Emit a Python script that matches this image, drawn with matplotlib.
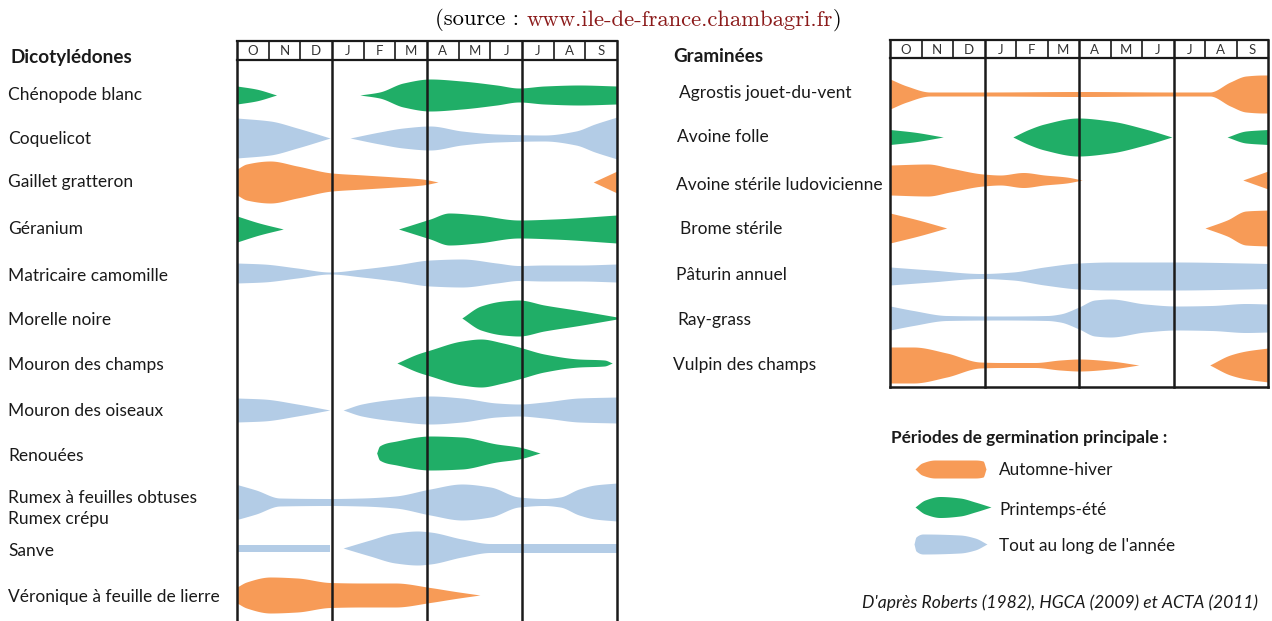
import numpy as np
import matplotlib
matplotlib.use("Agg")
import matplotlib.pyplot as plt

# ---------------- data ----------------
MONTHS = ["O", "N", "D", "J", "F", "M", "A", "M", "J", "J", "A", "S"]

COLORS = {"AH": "#F79B57", "PE": "#20AE67", "TA": "#B3CCE6"}

# Dicotylédones: (label, type, segments of (month, half-thickness))
DICOT_LABELS = ["Chénopode blanc", "Coquelicot", "Gaillet gratteron", "Géranium",
                "Matricaire camomille", "Morelle noire", "Mouron des champs",
                "Mouron des oiseaux", "Renouées",
                "Rumex à feuilles obtuses\nRumex crépu", "Sanve",
                "Véronique à feuille de lierre"]
DICOT_TYPES = ["PE", "TA", "AH", "PE", "TA", "PE", "PE", "TA", "PE", "TA", "TA", "AH"]
DICOT_PROFILES = [
    [[(0, 9), (0.6, 6), (1.25, 0)],
     [(3.88, 0), (4.5, 3), (5.25, 12), (6.1, 16), (7.1, 14), (8.2, 10), (8.9, 7), (9.7, 9), (10.8, 10), (12, 9)]],
    [[(0, 20), (1.05, 17), (1.9, 10), (2.94, 0)],
     [(3.57, 0), (4.5, 6), (5.25, 10), (6.1, 12), (7.1, 7), (8.2, 4), (9.7, 3), (10.7, 7), (11.3, 14), (12, 21)]],
    [[(0, 13), (0.3, 18), (1.05, 21), (1.9, 16), (3.0, 9), (4.0, 7), (5.0, 5), (5.85, 3), (6.35, 0)],
     [(11.25, 0), (12, 11)]],
    [[(0, 13), (0.7, 6), (1.46, 0)],
     [(5.1, 0), (5.6, 5), (6.1, 10), (6.7, 16), (7.6, 14), (8.9, 9), (10, 10), (12, 14)]],
    [[(0, 10), (0.83, 9), (1.9, 5), (2.94, 1), (3.94, 4), (5.0, 8), (6.1, 13), (7.1, 14), (8.2, 10),
      (8.9, 7.5), (9.7, 8), (10.8, 8), (12, 9)]],
    [[(7.1, 0), (7.7, 12), (8.4, 17), (8.9, 18), (9.7, 13), (10.8, 7.5), (12, 1)]],
    [[(5.05, 0), (5.7, 9), (6.1, 13), (7.1, 22), (7.7, 24), (8.4, 20), (8.9, 16), (9.7, 9), (10.8, 4),
      (11.6, 3), (11.85, 0)]],
    [[(0, 12), (0.83, 11), (1.9, 6), (2.93, 0)],
     [(3.35, 0), (3.94, 6), (5.0, 11), (6.1, 14), (7.1, 12), (8.2, 7), (8.9, 6), (9.7, 8), (10.8, 12), (12, 13)]],
    [[(4.41, 0), (4.5, 7), (5.04, 12), (6.1, 17), (7.1, 16), (8.2, 9), (8.9, 6), (9.57, 0)]],
    [[(0, 17.5), (0.6, 12), (1.35, 4), (2.94, 3.5), (3.94, 4), (5.0, 6), (6.1, 13), (7.1, 18), (8.0, 15),
      (8.9, 5), (9.7, 3.5), (10.2, 5), (10.8, 13), (11.3, 17), (12, 19)]],
    [[(0, 3.5), (2.94, 3.5)],
     [(3.35, 0), (4.2, 8), (5.0, 15), (5.7, 17), (6.1, 16), (7.1, 9), (8.0, 4.5), (9.0, 4.5), (12, 4.5)]],
    [[(0, 8), (0.3, 13), (1.05, 18), (1.9, 17), (2.94, 12.5), (3.94, 12), (5.0, 12), (6.1, 7.5),
      (6.9, 3.5), (7.67, 0)]],
]
DICOT_ROWS = [95, 138, 182, 229, 273, 318, 363, 410, 453, 502, 548, 595]
DICOT_LABEL_Y = [95, 139, 182, 229, 276, 320, 365, 411, 456, 508.5, 551, 597]

GRAM_LABELS = ["Agrostis jouet-du-vent", "Avoine folle", "Avoine stérile ludovicienne",
               "Brome stérile", "Pâturin annuel", "Ray-grass", "Vulpin des champs"]
GRAM_TYPES = ["AH", "PE", "AH", "AH", "TA", "TA", "AH"]
GRAM_PROFILES = [
    [[(0, 15), (0.53, 8), (1.27, 2), (3, 2), (6, 2.5), (9, 2), (10.15, 2), (10.8, 12), (11.3, 18),
      (11.85, 19), (12, 19)]],
    [[(0, 7.5), (0.74, 5), (1.69, 0)],
     [(3.9, 0), (4.4, 7.5), (4.9, 13), (5.97, 19), (7.0, 16), (8.1, 8), (8.95, 0)],
     [(10.7, 0), (11.3, 6), (12, 7.5)]],
    [[(0, 15), (1.2, 16), (1.9, 12), (2.96, 6), (3.5, 5), (4.23, 7.5), (4.9, 5), (5.6, 3), (6.1, 0)],
     [(11.2, 0), (12, 9)]],
    [[(0, 15), (0.9, 8), (1.8, 0)],
     [(10.0, 0), (10.7, 8), (11.3, 17), (12, 18)]],
    [[(0, 9), (1.3, 6), (2.9, 2.5), (3.9, 4), (4.9, 9), (6.0, 13), (7.0, 14), (9.1, 14), (11.3, 13), (12, 12.5)]],
    [[(0, 12), (0.74, 7.5), (1.8, 2.5), (3.5, 2), (5.0, 2.5), (5.4, 4), (6.0, 11), (6.5, 18), (7.0, 19),
      (8.1, 14), (9.1, 12), (10.2, 12.5), (11.3, 14.5), (12, 14)]],
    [[(0, 18), (0.74, 18), (1.8, 12), (2.86, 3), (3.5, 2.5), (4.6, 2.5), (5.4, 5), (6.0, 6), (7.0, 4), (7.9, 0)],
     [(10.15, 0), (10.8, 10), (11.3, 14), (12, 17)]],
]
GRAM_ROWS = [94, 137, 180, 228, 276, 318, 365]
GRAM_LABEL_Y = [93, 137, 185, 229, 275, 320, 365]
GRAM_LABEL_X = [679, 677, 676, 680, 676, 677, 673]

LEGEND_LABELS = ["Automne-hiver", "Printemps-été", "Tout au long de l'année"]
LEGEND_TYPES = ["AH", "PE", "TA"]
LEGEND_SHAPES = [
    [(915, 0), (922, 6), (935, 9), (975, 9), (983, 8), (986, 0)],
    [(915, 0), (925, 7), (940, 10.5), (960, 9), (975, 5), (991, 0)],
    [(914, 0), (916, 7), (923, 10), (960, 9), (975, 6), (987, 0)],
]
LEGEND_Y = [469, 507, 544]

# ---------------- helpers ----------------
W, H = 1272, 621


def pchip(xk, yk, xs):
    xk = np.asarray(xk, float)
    yk = np.asarray(yk, float)
    n = len(xk)
    if n == 2:
        return np.interp(xs, xk, yk)
    h = np.diff(xk)
    d = np.diff(yk) / h
    m = np.zeros(n)
    for k in range(1, n - 1):
        if d[k - 1] * d[k] <= 0:
            m[k] = 0.0
        else:
            w1 = 2 * h[k] + h[k - 1]
            w2 = h[k] + 2 * h[k - 1]
            m[k] = (w1 + w2) / (w1 / d[k - 1] + w2 / d[k])
    m[0] = d[0]
    m[-1] = d[-1]
    idx = np.clip(np.searchsorted(xk, xs) - 1, 0, n - 2)
    t = (xs - xk[idx]) / h[idx]
    h00 = 2 * t**3 - 3 * t**2 + 1
    h10 = t**3 - 2 * t**2 + t
    h01 = -2 * t**3 + 3 * t**2
    h11 = t**3 - t**2
    return h00 * yk[idx] + h10 * h[idx] * m[idx] + h01 * yk[idx + 1] + h11 * h[idx] * m[idx + 1]


def draw_shape(ax, knots, yc, color):
    xk = [k[0] for k in knots]
    yk = [k[1] for k in knots]
    xs = np.linspace(xk[0], xk[-1], 300)
    hw = np.maximum(pchip(xk, yk, xs), 0)
    ax.fill_between(xs, yc - hw, yc + hw, color=color, lw=0, zorder=1)


LABEL_FONT = ["Lato", "DejaVu Sans"]


def ftext(x, y, s, **kw):
    return fig.text(x / W, 1 - y / H, s, **kw)


fig = plt.figure(figsize=(W / 100, H / 100), dpi=100)


def panel(x0, x1, ytop, ybot, hdr_h, profiles, types, rows, bottom_line):
    ax = fig.add_axes([x0 / W, 1 - ybot / H, (x1 - x0) / W, (ybot - ytop) / H])
    ax.set_xlim(0, 12)
    ax.set_ylim(ybot, ytop)
    ax.axis("off")
    for segs, t, yc in zip(profiles, types, rows):
        for seg in segs:
            draw_shape(ax, seg, yc, COLORS[t])
    lc = "#1a1a1a"
    # header
    ax.plot([0, 12], [ytop, ytop], color=lc, lw=1.6, clip_on=False, zorder=3)
    ax.plot([0, 12], [ytop + hdr_h, ytop + hdr_h], color=lc, lw=1.6, clip_on=False, zorder=3)
    for i in range(1, 12):
        if i % 3:
            ax.plot([i, i], [ytop, ytop + hdr_h], color=lc, lw=1.2, clip_on=False, zorder=3)
    for i, mth in enumerate(MONTHS):
        ax.text(i + 0.5, ytop + hdr_h / 2 + 0.5, mth, ha="center", va="center",
                fontsize=9.5, color="#333333", family=LABEL_FONT)
    for i in (0, 3, 6, 9, 12):
        ax.plot([i, i], [ytop, ybot], color=lc, lw=1.8, clip_on=False, zorder=3)
    if bottom_line:
        ax.plot([0, 12], [ybot, ybot], color=lc, lw=1.8, clip_on=False, zorder=3)
    return ax


panel(237, 617, 41, 625, 19, DICOT_PROFILES, DICOT_TYPES, DICOT_ROWS, False)
panel(890, 1268, 40, 387, 18, GRAM_PROFILES, GRAM_TYPES, GRAM_ROWS, True)

# overlay axes in pixel coordinates for legend shapes
ov = fig.add_axes([0, 0, 1, 1])
ov.set_xlim(0, W)
ov.set_ylim(H, 0)
ov.axis("off")
for shp, t, yc in zip(LEGEND_SHAPES, LEGEND_TYPES, LEGEND_Y):
    draw_shape(ov, shp, yc, COLORS[t])

# labels
fs = 12.5
for lab, y in zip(DICOT_LABELS, DICOT_LABEL_Y):
    ftext(8, y, lab, ha="left", va="center", fontsize=fs, family=LABEL_FONT, color="#1a1a1a",
          linespacing=1.4)
for lab, x, y in zip(GRAM_LABELS, GRAM_LABEL_X, GRAM_LABEL_Y):
    ftext(x, y, lab, ha="left", va="center", fontsize=fs, family=LABEL_FONT, color="#1a1a1a")

ftext(10, 57, "Dicotylédones", ha="left", va="center", fontsize=13.6, weight="bold",
      family=LABEL_FONT, color="#1a1a1a")
ftext(673, 57, "Graminées", ha="left", va="center", fontsize=13.6, weight="bold",
      family=LABEL_FONT, color="#1a1a1a")
ftext(891, 438, "Périodes de germination principale :", ha="left", va="center", fontsize=12.4,
      weight="bold", family=LABEL_FONT, color="#1a1a1a")
for lab, y in zip(LEGEND_LABELS, [470, 510, 546]):
    ftext(999, y, lab, ha="left", va="center", fontsize=12.3, family=LABEL_FONT, color="#1a1a1a")
ftext(1258, 603, "D'après Roberts (1982), HGCA (2009) et ACTA (2011)", ha="right", va="center",
      fontsize=12.6, style="italic", family=LABEL_FONT, color="#1a1a1a")

# source line (serif, url in dark red)
renderer = fig.canvas.get_renderer()
parts = [("(source : ", "black"), ("www.ile-de-france.chambagri.fr", "#8B1A1A"), (")", "black")]
sfont = dict(fontsize=16.3, family=["cmr10", "DejaVu Serif"], va="center")
texts = [ftext(0, 20, p, color=c, **sfont) for p, c in parts]
widths = [t.get_window_extent(renderer).width for t in texts]
x = 638 - sum(widths) / 2
for t, w in zip(texts, widths):
    t.set_x(x / W)
    x += w

fig.savefig("out.png", dpi=100)
